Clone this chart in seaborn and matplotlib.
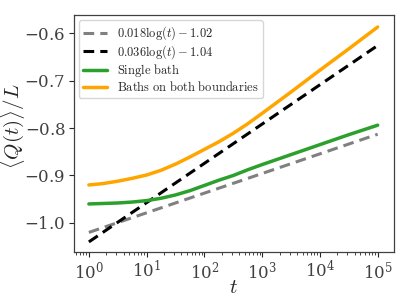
import numpy as np
import pandas as pd
import matplotlib
matplotlib.use("Agg")
import matplotlib.pyplot as plt
import seaborn as sns

# ---- data ----
log_t = [0, 0.25, 0.5, 0.75, 1.0, 1.25, 1.5, 1.75, 2.0, 2.25, 2.5, 2.75, 3.0, 3.5, 4.0, 4.5, 5.0]
single_bath = [-0.960, -0.959, -0.958, -0.956, -0.953, -0.948, -0.941, -0.932, -0.921,
               -0.910, -0.900, -0.888, -0.877, -0.856, -0.835, -0.814, -0.794]
both_baths = [-0.920, -0.917, -0.912, -0.906, -0.899, -0.889, -0.876, -0.861, -0.845,
              -0.829, -0.811, -0.791, -0.769, -0.724, -0.678, -0.633, -0.587]

t_fit = [1e0, 1e5]
fit_gray = [-1.020, -0.813]
fit_black = [-1.040, -0.626]

labels = [r"$0.018\log(t) - 1.02$", r"$0.036\log(t) - 1.04$",
          r"$\mathrm{Single\ bath}$", r"$\mathrm{Baths\ on\ both\ boundaries}$"]

sns.set_theme(style="ticks")
plt.rcParams.update({
    "mathtext.fontset": "cm",
    "font.family": ["DejaVu Serif"],
    "axes.formatter.use_mathtext": True,
    "axes.unicode_minus": True,
})

fig = plt.figure(figsize=(4.15, 2.97), dpi=100)
ax = fig.add_axes([0.178, 0.152, 0.771, 0.797])

t_pts = [10.0 ** v for v in log_t]
df_g = pd.DataFrame({"t": t_fit, "y": fit_gray})
df_k = pd.DataFrame({"t": t_fit, "y": fit_black})
df_s = pd.DataFrame({"t": t_pts, "y": single_bath})
df_b = pd.DataFrame({"t": t_pts, "y": both_baths})

sns.lineplot(data=df_g, x="t", y="y", ax=ax, color="gray", lw=2.2,
             linestyle=(0, (3.5, 2)), label=labels[0])
sns.lineplot(data=df_k, x="t", y="y", ax=ax, color="black", lw=2.2,
             linestyle=(0, (3.5, 2)), label=labels[1])
sns.lineplot(data=df_s, x="t", y="y", ax=ax, color="#2ca02c", lw=2.5, label=labels[2])
sns.lineplot(data=df_b, x="t", y="y", ax=ax, color="orange", lw=2.5, label=labels[3])

ax.set_xscale("log")
ax.set_xlim(10**-0.26, 10**5.28)
ax.set_ylim(-1.061, -0.562)
ax.set_yticks([-1.0, -0.9, -0.8, -0.7, -0.6])
ax.set_xticks([1e0, 1e1, 1e2, 1e3, 1e4, 1e5])

ax.tick_params(axis="both", labelsize=12, length=3.5, width=0.8, colors="0.15", pad=2.5)
ax.tick_params(axis="x", which="minor", length=2, width=0.6)
for lab in ax.get_xticklabels() + ax.get_yticklabels():
    lab.set_color("0.25")
for s in ax.spines.values():
    s.set_color("0.25")
    s.set_linewidth(0.9)

ax.set_xlabel(r"$t$", fontsize=15)
ax.xaxis.set_label_coords(0.5, -0.112)
ax.set_ylabel(r"$\langle Q(t)\rangle/L$", fontsize=15)
ax.yaxis.set_label_coords(-0.145, 0.53)

leg = ax.legend(loc="upper left", fontsize=9, frameon=True, handlelength=1.9,
                borderaxespad=0.4, labelspacing=0.08, borderpad=0.35, handletextpad=0.8)
leg.get_frame().set_edgecolor("0.8")

fig.savefig("out.png", dpi=100)
